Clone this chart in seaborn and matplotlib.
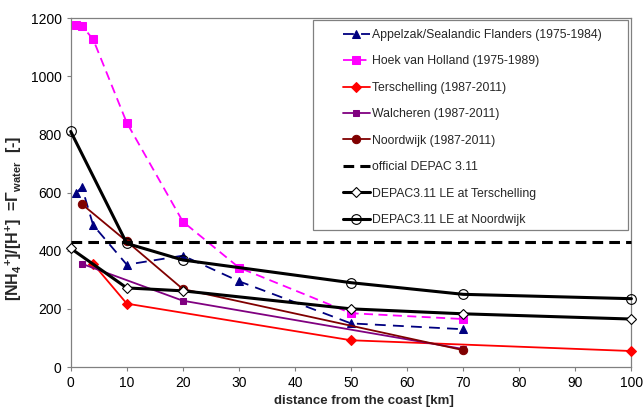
import numpy as np
import pandas as pd
import matplotlib
matplotlib.use('Agg')
import matplotlib.pyplot as plt
from matplotlib.patches import Rectangle
import seaborn as sns

sns.set_theme(style='white')
plt.rcParams['font.family'] = ['Liberation Sans', 'DejaVu Sans']
plt.rcParams['mathtext.fontset'] = 'custom'
plt.rcParams['mathtext.rm'] = 'Liberation Sans:bold'
plt.rcParams['mathtext.it'] = 'Liberation Sans:bold'
plt.rcParams['mathtext.bf'] = 'Liberation Sans:bold'
plt.rcParams['mathtext.default'] = 'rm'

# --- data ---
appelzak_x = [1, 2, 4, 10, 20, 30, 50, 70]
appelzak_y = [600, 618, 488, 352, 383, 295, 150, 130]

hoek_x = [1, 2, 4, 10, 20, 30, 50, 70]
hoek_y = [1177, 1173, 1127, 840, 500, 342, 185, 165]

tersch_x = [4, 10, 50, 100]
tersch_y = [355, 218, 92, 55]

walch_x = [2, 20, 70]
walch_y = [355, 228, 62]

noordw_x = [2, 10, 20, 70]
noordw_y = [560, 432, 268, 58]

official_x = [0, 100]
official_y = [430, 430]

le_tersch_x = [0, 10, 20, 50, 70, 100]
le_tersch_y = [408, 272, 262, 200, 183, 165]

le_noordw_x = [0, 10, 20, 50, 70, 100]
le_noordw_y = [810, 425, 368, 290, 250, 235]

fig, ax = plt.subplots(figsize=(6.43, 4.11), dpi=100)

series = [
    ('Appelzak/Sealandic Flanders (1975-1984)', appelzak_x, appelzak_y,
     dict(color='#000080', ls=(0, (6, 4)), lw=1.3, marker='^', ms=6, mfc='#000080', mec='#000080')),
    ('Hoek van Holland (1975-1989)', hoek_x, hoek_y,
     dict(color='#FF00FF', ls=(0, (5, 3)), lw=1.3, marker='s', ms=6, mfc='#FF00FF', mec='#FF00FF')),
    ('Terschelling (1987-2011)', tersch_x, tersch_y,
     dict(color='#FF0000', ls='-', lw=1.3, marker='D', ms=5, mfc='#FF0000', mec='#FF0000')),
    ('Walcheren (1987-2011)', walch_x, walch_y,
     dict(color='#800080', ls='-', lw=1.3, marker='s', ms=4, mfc='#800080', mec='#800080')),
    ('Noordwijk (1987-2011)', noordw_x, noordw_y,
     dict(color='#800000', ls='-', lw=1.3, marker='o', ms=6, mfc='#800000', mec='#800000')),
    ('official DEPAC 3.11', official_x, official_y,
     dict(color='black', ls=(0, (3.5, 2)), lw=2.2, marker=None)),
    ('DEPAC3.11 LE at Terschelling', le_tersch_x, le_tersch_y,
     dict(color='black', ls='-', lw=2.2, marker='D', ms=5, mfc='white', mec='black', mew=0.8)),
    ('DEPAC3.11 LE at Noordwijk', le_noordw_x, le_noordw_y,
     dict(color='black', ls='-', lw=2.2, marker='o', ms=7, mfc='none', mec='black', mew=0.8)),
]

for label, xs, ys, kw in series:
    sns.lineplot(x=xs, y=ys, ax=ax, label=label, clip_on=False, zorder=3, **kw)

ax.set_xlim(0, 100)
ax.set_ylim(0, 1200)
ax.set_xticks(np.arange(0, 101, 10))
ax.set_yticks(np.arange(0, 1201, 200))
ax.tick_params(axis='both', labelsize=10, direction='out', length=3, width=0.8,
               left=True, bottom=True, colors='#808080', labelcolor='black')

for side in ['top', 'right', 'left', 'bottom']:
    ax.spines[side].set_color('#808080')
    ax.spines[side].set_linewidth(0.9)

ax.set_xlabel('distance from the coast [km]', fontsize=9.5, fontweight='bold')
ax.xaxis.set_label_coords(0.523, -0.080)
ax.set_ylabel(r'[NH$_4$$^{+}$]/[H$^{+}$]  =$\Gamma_{water}$  [-]', fontsize=11.5, fontweight='bold')
ax.yaxis.set_label_coords(-0.084, 0.427)

fig.subplots_adjust(left=0.11, right=0.982, top=0.956, bottom=0.107)

# legend box drawn at the reference position, entries placed inside it
handles, labels = ax.get_legend_handles_labels()
ax.get_legend().remove()
box = Rectangle((313 / 643, 1 - 230 / 411), (628 - 313) / 643, (230 - 20) / 411,
                transform=fig.transFigure, facecolor='white', edgecolor='#808080',
                linewidth=0.9, zorder=5)
fig.patches.append(box)
leg = fig.legend(handles, labels, loc='upper left', bbox_to_anchor=(343 / 643, 1 - 29 / 411),
                 fontsize=8.8, frameon=False, borderpad=0, borderaxespad=0,
                 labelspacing=1.18, handlelength=2.2, handletextpad=0.15)
leg.set_zorder(6)

fig.savefig('out.png', dpi=100)
